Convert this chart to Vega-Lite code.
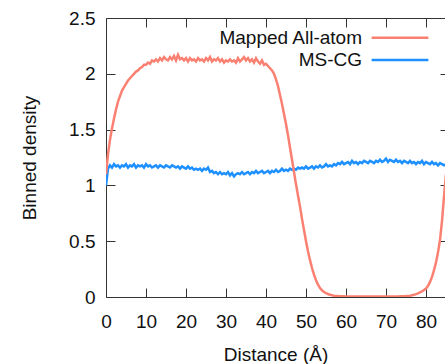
{
  "$schema": "https://vega.github.io/schema/vega-lite/v6.json",
  "width": 339,
  "height": 279,
  "autosize": {"type": "none"},
  "padding": {"left": 106, "top": 18, "right": 0, "bottom": 67},
  "config": {
    "view": {"stroke": null},
    "font": "Liberation Sans",
    "axis": {
      "grid": false,
      "domainColor": "#333333",
      "tickColor": "#333333",
      "labelColor": "#111111",
      "titleColor": "#111111",
      "labelFontSize": 19,
      "titleFontSize": 19,
      "titleFontWeight": "normal",
      "labelFont": "Liberation Sans",
      "titleFont": "Liberation Sans",
      "labelOverlap": false,
      "labelFlush": false
    }
  },
  "datasets": {
    "curves": [
      {"d":0,"a":1.10,"m":1.00},{"d":0.5,"a":1.28,"m":1.15},{"d":1,"a":1.41,"m":1.18},{"d":1.5,"a":1.51,"m":1.16},
      {"d":2,"a":1.60,"m":1.19},{"d":2.5,"a":1.68,"m":1.17},{"d":3,"a":1.75,"m":1.18},{"d":3.5,"a":1.80,"m":1.16},
      {"d":4,"a":1.85,"m":1.18},{"d":4.5,"a":1.88,"m":1.17},{"d":5,"a":1.91,"m":1.19},{"d":5.5,"a":1.94,"m":1.16},
      {"d":6,"a":1.96,"m":1.18},{"d":6.5,"a":1.98,"m":1.17},{"d":7,"a":2.00,"m":1.19},{"d":7.5,"a":2.02,"m":1.16},
      {"d":8,"a":2.03,"m":1.18},{"d":8.5,"a":2.05,"m":1.17},{"d":9,"a":2.06,"m":1.18},{"d":9.5,"a":2.08,"m":1.16},
      {"d":10,"a":2.08,"m":1.19},{"d":10.5,"a":2.10,"m":1.17},{"d":11,"a":2.09,"m":1.18},{"d":11.5,"a":2.12,"m":1.16},
      {"d":12,"a":2.11,"m":1.17},{"d":12.5,"a":2.13,"m":1.18},{"d":13,"a":2.11,"m":1.16},{"d":13.5,"a":2.14,"m":1.18},
      {"d":14,"a":2.12,"m":1.17},{"d":14.5,"a":2.15,"m":1.16},{"d":15,"a":2.13,"m":1.18},{"d":15.5,"a":2.12,"m":1.17},
      {"d":16,"a":2.15,"m":1.16},{"d":16.5,"a":2.13,"m":1.18},{"d":17,"a":2.16,"m":1.17},{"d":17.5,"a":2.12,"m":1.16},
      {"d":18,"a":2.17,"m":1.17},{"d":18.5,"a":2.13,"m":1.15},{"d":19,"a":2.14,"m":1.17},{"d":19.5,"a":2.12,"m":1.16},
      {"d":20,"a":2.14,"m":1.15},{"d":20.5,"a":2.11,"m":1.17},{"d":21,"a":2.14,"m":1.15},{"d":21.5,"a":2.12,"m":1.16},
      {"d":22,"a":2.13,"m":1.14},{"d":22.5,"a":2.11,"m":1.15},{"d":23,"a":2.14,"m":1.14},{"d":23.5,"a":2.12,"m":1.15},
      {"d":24,"a":2.13,"m":1.13},{"d":24.5,"a":2.11,"m":1.15},{"d":25,"a":2.14,"m":1.14},{"d":25.5,"a":2.12,"m":1.16},
      {"d":26,"a":2.15,"m":1.12},{"d":26.5,"a":2.11,"m":1.13},{"d":27,"a":2.13,"m":1.11},{"d":27.5,"a":2.12,"m":1.12},
      {"d":28,"a":2.14,"m":1.10},{"d":28.5,"a":2.11,"m":1.12},{"d":29,"a":2.13,"m":1.10},{"d":29.5,"a":2.10,"m":1.11},
      {"d":30,"a":2.12,"m":1.10},{"d":30.5,"a":2.11,"m":1.12},{"d":31,"a":2.13,"m":1.09},{"d":31.5,"a":2.11,"m":1.11},
      {"d":32,"a":2.12,"m":1.08},{"d":32.5,"a":2.10,"m":1.10},{"d":33,"a":2.14,"m":1.11},{"d":33.5,"a":2.11,"m":1.10},
      {"d":34,"a":2.13,"m":1.12},{"d":34.5,"a":2.15,"m":1.10},{"d":35,"a":2.12,"m":1.11},{"d":35.5,"a":2.14,"m":1.12},
      {"d":36,"a":2.11,"m":1.10},{"d":36.5,"a":2.13,"m":1.12},{"d":37,"a":2.10,"m":1.11},{"d":37.5,"a":2.14,"m":1.13},
      {"d":38,"a":2.11,"m":1.11},{"d":38.5,"a":2.09,"m":1.12},{"d":39,"a":2.12,"m":1.13},{"d":39.5,"a":2.08,"m":1.11},
      {"d":40,"a":2.09,"m":1.12},{"d":40.5,"a":2.07,"m":1.13},{"d":41,"a":2.05,"m":1.11},{"d":41.5,"a":2.03,"m":1.13},
      {"d":42,"a":2.00,"m":1.12},{"d":42.5,"a":1.95,"m":1.14},{"d":43,"a":1.89,"m":1.12},{"d":43.5,"a":1.81,"m":1.13},
      {"d":44,"a":1.73,"m":1.15},{"d":44.5,"a":1.64,"m":1.13},{"d":45,"a":1.55,"m":1.14},{"d":45.5,"a":1.45,"m":1.13},
      {"d":46,"a":1.34,"m":1.15},{"d":46.5,"a":1.23,"m":1.14},{"d":47,"a":1.12,"m":1.15},{"d":47.5,"a":1.01,"m":1.14},
      {"d":48,"a":0.91,"m":1.16},{"d":48.5,"a":0.81,"m":1.15},{"d":49,"a":0.70,"m":1.16},{"d":49.5,"a":0.60,"m":1.15},
      {"d":50,"a":0.50,"m":1.17},{"d":50.5,"a":0.41,"m":1.15},{"d":51,"a":0.33,"m":1.16},{"d":51.5,"a":0.26,"m":1.17},
      {"d":52,"a":0.20,"m":1.15},{"d":52.5,"a":0.15,"m":1.17},{"d":53,"a":0.11,"m":1.16},{"d":53.5,"a":0.08,"m":1.18},
      {"d":54,"a":0.06,"m":1.16},{"d":54.5,"a":0.045,"m":1.17},{"d":55,"a":0.035,"m":1.19},{"d":55.5,"a":0.027,"m":1.17},
      {"d":56,"a":0.02,"m":1.18},{"d":56.5,"a":0.016,"m":1.17},{"d":57,"a":0.012,"m":1.19},{"d":57.5,"a":0.01,"m":1.18},
      {"d":58,"a":0.008,"m":1.20},{"d":58.5,"a":0.007,"m":1.19},{"d":59,"a":0.006,"m":1.21},{"d":59.5,"a":0.006,"m":1.19},
      {"d":60,"a":0.005,"m":1.20},{"d":60.5,"a":0.005,"m":1.21},{"d":61,"a":0.004,"m":1.19},{"d":61.5,"a":0.005,"m":1.22},
      {"d":62,"a":0.005,"m":1.20},{"d":62.5,"a":0.004,"m":1.21},{"d":63,"a":0.005,"m":1.19},{"d":63.5,"a":0.005,"m":1.21},
      {"d":64,"a":0.004,"m":1.20},{"d":64.5,"a":0.005,"m":1.22},{"d":65,"a":0.005,"m":1.21},{"d":65.5,"a":0.004,"m":1.20},
      {"d":66,"a":0.005,"m":1.22},{"d":66.5,"a":0.005,"m":1.21},{"d":67,"a":0.004,"m":1.20},{"d":67.5,"a":0.005,"m":1.22},
      {"d":68,"a":0.005,"m":1.21},{"d":68.5,"a":0.004,"m":1.23},{"d":69,"a":0.005,"m":1.21},{"d":69.5,"a":0.005,"m":1.22},
      {"d":70,"a":0.004,"m":1.24},{"d":70.5,"a":0.005,"m":1.21},{"d":71,"a":0.005,"m":1.23},{"d":71.5,"a":0.004,"m":1.22},
      {"d":72,"a":0.005,"m":1.21},{"d":72.5,"a":0.005,"m":1.23},{"d":73,"a":0.005,"m":1.21},{"d":73.5,"a":0.006,"m":1.22},
      {"d":74,"a":0.006,"m":1.20},{"d":74.5,"a":0.007,"m":1.22},{"d":75,"a":0.008,"m":1.21},{"d":75.5,"a":0.01,"m":1.20},
      {"d":76,"a":0.012,"m":1.22},{"d":76.5,"a":0.015,"m":1.20},{"d":77,"a":0.02,"m":1.21},{"d":77.5,"a":0.026,"m":1.19},
      {"d":78,"a":0.033,"m":1.21},{"d":78.5,"a":0.042,"m":1.20},{"d":79,"a":0.05,"m":1.22},{"d":79.5,"a":0.062,"m":1.19},
      {"d":80,"a":0.075,"m":1.21},{"d":80.5,"a":0.10,"m":1.20},{"d":81,"a":0.135,"m":1.19},{"d":81.5,"a":0.18,"m":1.21},
      {"d":82,"a":0.24,"m":1.19},{"d":82.5,"a":0.31,"m":1.20},{"d":83,"a":0.40,"m":1.18},{"d":83.5,"a":0.51,"m":1.20},
      {"d":84,"a":0.68,"m":1.19},{"d":84.5,"a":0.90,"m":1.18},{"d":85,"a":1.10,"m":1.19}
    ],
    "legend": [
      {"key":"a","label":"Mapped All-atom","lx":64,"ly":2.323,"x1":66.4,"x2":80.6},
      {"key":"m","label":"MS-CG","lx":64,"ly":2.124,"x1":66.4,"x2":80.6}
    ],
    "frame": [{"d":0,"y":0}]
  },
  "layer": [
    {
      "data": {"name": "curves"},
      "transform": [{"fold": ["m", "a"], "as": ["key", "y"]}],
      "mark": {"type": "line", "clip": true, "strokeWidth": 2.5},
      "encoding": {
        "x": {
          "field": "d", "type": "quantitative",
          "scale": {"domain": [0, 84.75], "nice": false, "zero": false},
          "axis": {"orient": "bottom", "values": [0,10,20,30,40,50,60,70,80], "tickSize": -9, "labelPadding": 24, "title": "Distance (Å)", "titleY": 63, "titleBaseline": "alphabetic"}
        },
        "y": {
          "field": "y", "type": "quantitative",
          "scale": {"domain": [0, 2.5], "nice": false},
          "axis": {"orient": "left", "values": [0,0.5,1,1.5,2,2.5], "format": "~g", "tickSize": -9, "labelPadding": 20, "title": "Binned density", "titleX": -71, "titleBaseline": "alphabetic"}
        },
        "color": {"field": "key", "type": "nominal", "scale": {"domain": ["a", "m"], "range": ["#fa8072", "#1e90ff"]}, "legend": null}
      }
    },
    {
      "data": {"name": "frame"},
      "mark": {"type": "point", "opacity": 0},
      "encoding": {
        "x": {"field": "d", "type": "quantitative", "axis": {"orient": "top", "values": [10,20,30,40,50,60,70,80], "tickSize": -9, "labels": false, "title": null}},
        "y": {"field": "y", "type": "quantitative", "axis": {"orient": "right", "values": [0.5,1,1.5,2], "tickSize": -9, "offset": 4, "domain": false, "labels": false, "title": null}}
      }
    },
    {
      "data": {"name": "legend"},
      "mark": {"type": "text", "align": "right", "baseline": "middle", "fontSize": 19, "font": "Liberation Sans", "color": "#111111"},
      "encoding": {
        "x": {"field": "lx", "type": "quantitative", "axis": null},
        "y": {"field": "ly", "type": "quantitative", "axis": null},
        "text": {"field": "label"}
      }
    },
    {
      "data": {"name": "legend"},
      "mark": {"type": "rule", "strokeWidth": 2.5},
      "encoding": {
        "x": {"field": "x1", "type": "quantitative", "axis": null},
        "x2": {"field": "x2"},
        "y": {"field": "ly", "type": "quantitative", "axis": null},
        "color": {"field": "key", "type": "nominal", "legend": null}
      }
    }
  ],
  "resolve": {"axis": {"x": "independent", "y": "independent"}}
}
